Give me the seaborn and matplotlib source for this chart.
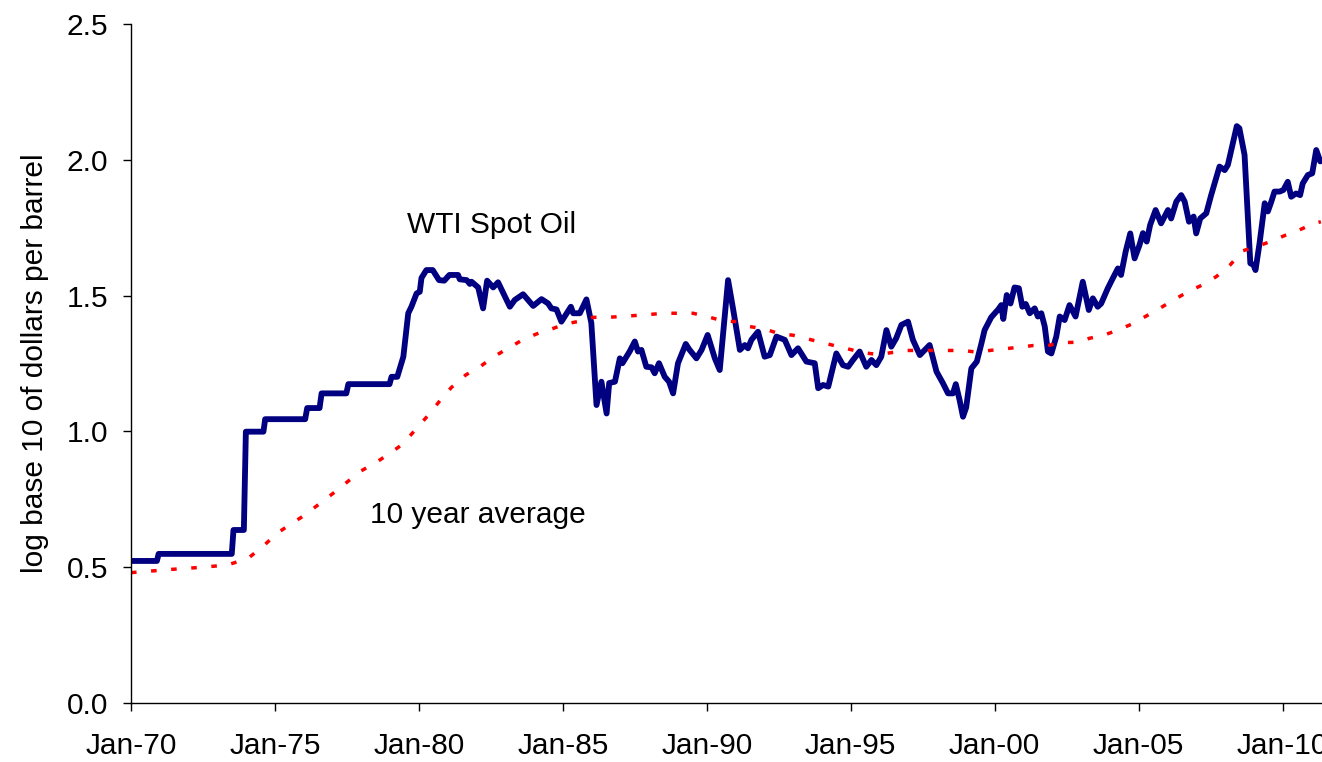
import matplotlib
matplotlib.use("Agg")
import matplotlib.pyplot as plt
import seaborn as sns
import pandas as pd

# WTI spot oil, log10 of dollars per barrel (decimal year, value)
wti_year = [1970.00, 1970.90, 1970.96, 1973.50, 1973.56, 1973.92, 1973.99, 1974.60, 1974.66,
            1976.05, 1976.12, 1976.55, 1976.62, 1977.48, 1977.55, 1978.98, 1979.05, 1979.25,
            1979.46, 1979.63, 1979.74, 1979.92, 1980.03, 1980.09, 1980.26, 1980.48, 1980.70,
            1980.88, 1981.06, 1981.36, 1981.42, 1981.66, 1981.77, 1981.83, 1982.06, 1982.23,
            1982.37, 1982.58, 1982.75, 1982.99, 1983.16, 1983.33, 1983.62, 1983.97, 1984.26,
            1984.49, 1984.60, 1984.78, 1984.95, 1985.28, 1985.36, 1985.59, 1985.82, 1985.99,
            1986.17, 1986.34, 1986.52, 1986.61, 1986.81, 1986.98, 1987.07, 1987.32, 1987.50,
            1987.61, 1987.73, 1987.90, 1988.08, 1988.19, 1988.34, 1988.54, 1988.69, 1988.83,
            1989.00, 1989.27, 1989.39, 1989.64, 1989.82, 1990.03, 1990.28, 1990.45, 1990.62,
            1990.74, 1990.92, 1991.15, 1991.32, 1991.43, 1991.55, 1991.78, 1992.01, 1992.19,
            1992.42, 1992.71, 1992.94, 1993.17, 1993.46, 1993.75, 1993.87, 1994.04, 1994.22,
            1994.50, 1994.73, 1994.91, 1995.08, 1995.31, 1995.54, 1995.72, 1995.89, 1996.06,
            1996.24, 1996.41, 1996.58, 1996.76, 1996.99, 1997.16, 1997.40, 1997.74, 1997.98,
            1998.20, 1998.38, 1998.55, 1998.65, 1998.78, 1998.90, 1999.01, 1999.19, 1999.38,
            1999.54, 1999.65, 1999.88, 2000.13, 2000.23, 2000.30, 2000.42, 2000.55, 2000.69,
            2000.84, 2000.96, 2001.08, 2001.22, 2001.39, 2001.50, 2001.62, 2001.74, 2001.85,
            2001.97, 2002.14, 2002.26, 2002.43, 2002.60, 2002.81, 2003.06, 2003.27, 2003.41,
            2003.58, 2003.70, 2003.93, 2004.10, 2004.28, 2004.39, 2004.55, 2004.71, 2004.86,
            2005.03, 2005.15, 2005.28, 2005.40, 2005.59, 2005.78, 2006.02, 2006.13, 2006.31,
            2006.48, 2006.60, 2006.75, 2006.91, 2007.00, 2007.14, 2007.35, 2007.52, 2007.81,
            2007.99, 2008.10, 2008.27, 2008.41, 2008.50, 2008.68, 2008.88, 2008.99, 2009.06,
            2009.20, 2009.38, 2009.49, 2009.61, 2009.72, 2009.90, 2010.03, 2010.18, 2010.30,
            2010.47, 2010.61, 2010.70, 2010.88, 2011.03, 2011.17, 2011.31]
wti_log = [0.523, 0.523, 0.549, 0.549, 0.637, 0.637, 0.999, 0.999, 1.045,
           1.045, 1.086, 1.086, 1.140, 1.140, 1.174, 1.174, 1.201, 1.201,
           1.275, 1.435, 1.459, 1.508, 1.514, 1.565, 1.594, 1.594, 1.557,
           1.555, 1.576, 1.576, 1.560, 1.557, 1.543, 1.551, 1.530, 1.453,
           1.555, 1.530, 1.549, 1.496, 1.459, 1.484, 1.505, 1.462, 1.487,
           1.471, 1.453, 1.449, 1.404, 1.459, 1.435, 1.435, 1.486, 1.399,
           1.097, 1.183, 1.066, 1.178, 1.183, 1.269, 1.251, 1.294, 1.331,
           1.294, 1.300, 1.238, 1.236, 1.214, 1.251, 1.201, 1.183, 1.140,
           1.251, 1.322, 1.302, 1.269, 1.300, 1.355, 1.269, 1.226, 1.420,
           1.557, 1.447, 1.300, 1.318, 1.306, 1.337, 1.367, 1.275, 1.281,
           1.349, 1.337, 1.281, 1.306, 1.257, 1.251, 1.159, 1.171, 1.165,
           1.287, 1.244, 1.238, 1.263, 1.294, 1.238, 1.263, 1.244, 1.275,
           1.373, 1.312, 1.343, 1.392, 1.404, 1.337, 1.281, 1.318, 1.220,
           1.178, 1.140, 1.140, 1.174, 1.116, 1.054, 1.088, 1.232, 1.257,
           1.324, 1.373, 1.420, 1.450, 1.465, 1.414, 1.502, 1.471, 1.530,
           1.527, 1.459, 1.469, 1.435, 1.453, 1.423, 1.435, 1.386, 1.294,
           1.287, 1.349, 1.423, 1.410, 1.465, 1.423, 1.551, 1.447, 1.490,
           1.459, 1.471, 1.527, 1.563, 1.600, 1.576, 1.662, 1.729, 1.637,
           1.686, 1.730, 1.699, 1.760, 1.815, 1.766, 1.815, 1.784, 1.846,
           1.870, 1.846, 1.772, 1.791, 1.729, 1.784, 1.803, 1.870, 1.975,
           1.962, 1.981, 2.060, 2.124, 2.116, 2.018, 1.619, 1.613, 1.594,
           1.692, 1.840, 1.810, 1.846, 1.883, 1.883, 1.889, 1.919, 1.864,
           1.876, 1.870, 1.913, 1.944, 1.950, 2.036, 1.994]

# 10 year average (decimal year, value)
avg_year = [1970.00, 1971.41, 1972.36, 1973.35, 1974.07, 1974.60, 1975.06, 1975.58, 1976.04,
            1976.54, 1977.02, 1977.49, 1977.95, 1978.53, 1978.99, 1979.45, 1979.86, 1980.32,
            1980.70, 1981.13, 1981.63, 1982.12, 1982.60, 1983.10, 1983.60, 1984.09, 1984.61,
            1985.07, 1985.59, 1986.05, 1986.58, 1987.56, 1988.54, 1989.52, 1990.05, 1990.51,
            1991.03, 1991.49, 1992.01, 1992.48, 1993.00, 1993.52, 1993.98, 1994.50, 1994.97,
            1995.43, 1995.95, 1996.41, 1996.93, 1997.86, 1998.90, 1999.36, 1999.83, 2000.35,
            2000.84, 2001.33, 2001.85, 2002.31, 2002.83, 2003.30, 2003.78, 2004.28, 2004.74,
            2005.27, 2005.73, 2006.22, 2006.71, 2007.21, 2007.70, 2008.18, 2008.62, 2009.09,
            2009.58, 2010.07, 2010.59, 2011.05, 2011.33]
avg_log = [0.480, 0.492, 0.499, 0.508, 0.533, 0.578, 0.624, 0.661, 0.692,
           0.733, 0.772, 0.812, 0.852, 0.887, 0.919, 0.954, 1.004, 1.059,
           1.109, 1.162, 1.208, 1.238, 1.275, 1.306, 1.337, 1.359, 1.377,
           1.395, 1.406, 1.420, 1.420, 1.427, 1.435, 1.435, 1.422, 1.408,
           1.404, 1.386, 1.377, 1.361, 1.354, 1.340, 1.328, 1.314, 1.302,
           1.290, 1.283, 1.290, 1.298, 1.298, 1.298, 1.292, 1.298, 1.304,
           1.310, 1.316, 1.316, 1.327, 1.328, 1.343, 1.354, 1.373, 1.394,
           1.425, 1.453, 1.484, 1.514, 1.539, 1.570, 1.613, 1.665, 1.680,
           1.699, 1.721, 1.742, 1.764, 1.772]

tick_years = [1970, 1975, 1980, 1985, 1990, 1995, 2000, 2005, 2010]
tick_labels = ["Jan-70", "Jan-75", "Jan-80", "Jan-85", "Jan-90", "Jan-95", "Jan-00", "Jan-05", "Jan-10"]
y_ticks = [0.0, 0.5, 1.0, 1.5, 2.0, 2.5]

wti = pd.DataFrame({"year": wti_year, "log_price": wti_log})
avg = pd.DataFrame({"year": avg_year, "log_price": avg_log})

sns.set_style("ticks")
plt.rcParams["font.family"] = ["Liberation Sans", "DejaVu Sans"]
plt.rcParams["text.color"] = "black"
plt.rcParams["axes.labelcolor"] = "black"
FS = 21.5

fig = plt.figure(figsize=(13.22, 7.62), dpi=100)
ax = fig.add_axes([131 / 1322, 59 / 762, 1191 / 1322, 679 / 762])

sns.lineplot(data=wti, x="year", y="log_price", ax=ax, color="#000080", linewidth=4.2,
             estimator=None, sort=False, solid_joinstyle="round")
sns.lineplot(data=avg, x="year", y="log_price", ax=ax, color="#FF0000", linewidth=2.5,
             estimator=None, sort=False, linestyle=(0, (1.6, 4.2)))

ax.set_xlim(1970, 2011.37)
ax.set_ylim(0, 2.5)
ax.set_xticks(tick_years)
ax.set_xticklabels(tick_labels)
ax.set_yticks(y_ticks)
ax.set_yticklabels([f"{v:.1f}" for v in y_ticks])
ax.tick_params(axis="both", direction="out", length=5.8, width=1, colors="black",
               labelsize=FS, labelcolor="black")
ax.tick_params(axis="y", pad=10.5)
ax.tick_params(axis="x", pad=15)
for s in ["top", "right"]:
    ax.spines[s].set_visible(False)
for s in ["left", "bottom"]:
    ax.spines[s].set_color("black")
    ax.spines[s].set_linewidth(1)

ax.set_xlabel("")
ax.set_ylabel("log base 10 of dollars per barrel", fontsize=FS, color="black")
ax.yaxis.set_label_coords(-0.0806, 0.5)
ax.yaxis.label.set_verticalalignment("center")

ax.text(1979.57, 1.730, "WTI Spot Oil", fontsize=FS, ha="left", va="baseline", color="black")
ax.text(1978.30, 0.663, "10 year average", fontsize=FS, ha="left", va="baseline", color="black")

fig.savefig("out.png", dpi=100)
